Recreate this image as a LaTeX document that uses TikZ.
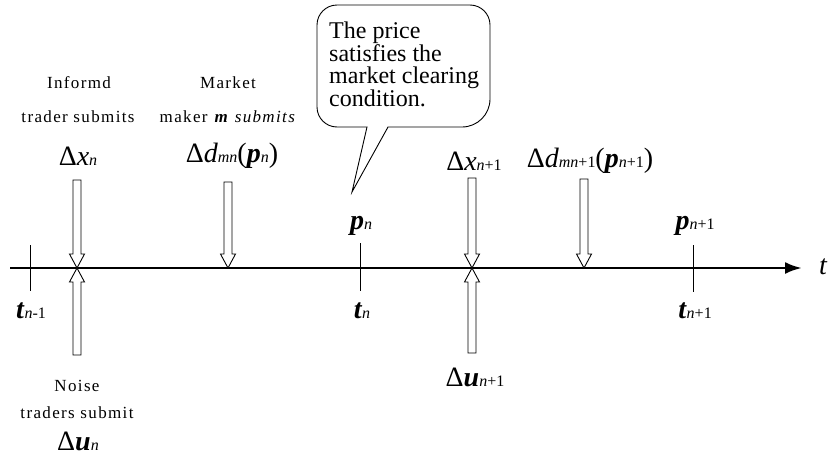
\documentclass[tikz,border=0pt]{standalone}
\usepackage{fontspec}
\setmainfont{Liberation Serif}
\newfontfamily\lblfont{Liberation Serif}[LetterSpace=8]
\usetikzlibrary{arrows.meta}
\newcommand{\lo}[1]{{\fontsize{16}{16}\selectfont #1}}
\newcommand{\barr}[4]{\draw[barrow] (#1-4,#2) -- (#1-4,#3) -- (#1-7.5,#3) -- (#1,#4) -- (#1+7.5,#3) -- (#1+4,#3) -- (#1+4,#2) -- cycle;}
\begin{document}
\begin{tikzpicture}[x=1pt,y=-1pt,
  lbl/.style={font=\lblfont\fontsize{17}{17}\selectfont, inner sep=0pt},
  mlbl/.style={font=\fontsize{28}{28}\selectfont, inner sep=0pt},
  ctext/.style={font=\fontsize{24}{22.5}\selectfont, inner sep=0pt, align=left, anchor=north west},
  barrow/.style={draw, line width=0.9pt, fill=white},
  tickmark/.style={line width=0.8pt},
  axisline/.style={line width=2.8pt, -{Latex[length=17pt,width=12pt]}},
  callout/.style={draw, line width=0.9pt, fill=white}]
\useasboundingbox (0,0) rectangle (834,458);
% axis
\coordinate (ax0) at (10,268);
\coordinate (ax1) at (802,268);
\draw[axisline] (ax0) -- (ax1);
\node[mlbl, font=\fontsize{28}{28}\selectfont\itshape] (tt) at (823,267) {t};
% ticks
\coordinate (k1a) at (30,245); \coordinate (k1b) at (30,291);
\coordinate (k2a) at (360,243); \coordinate (k2b) at (360,291);
\coordinate (k3a) at (693,245); \coordinate (k3b) at (693,292);
\draw[tickmark] (k1a) -- (k1b);
\draw[tickmark] (k2a) -- (k2b);
\draw[tickmark] (k3a) -- (k3b);
% block arrows
\barr{77}{180}{254}{268}
\barr{77}{355}{282}{268}
\barr{228}{182}{254}{268}
\barr{472}{178}{254}{268}
\barr{472}{353}{282}{268}
\barr{584}{179}{254}{268}
% labels top-left
\node[lbl] (inf1) at (79,83) {Informd};
\node[lbl] (inf2) at (78,117) {trader submits};
\node[mlbl] (dxn) at (78,156) {Δ\textit{x}\lo{\textit{n}}};
\node[lbl] (mm1) at (228,83) {Market};
\node[lbl] (mm2) at (228,117) {maker \textbf{\textit{m}} \textit{submits}};
\node[mlbl] (ddn) at (232,156) {Δ\textit{d}\lo{\textit{mn}}(\textbf{\textit{p}}\lo{\textit{n}})};
% price labels
\node[mlbl] (pn) at (361,226) {\textbf{\textit{p}}\lo{\textit{n}}};
\node[mlbl] (pn1) at (695,226) {\textbf{\textit{p}}\lo{\textit{n}+1}};
\node[mlbl] (dxn1) at (474,161) {Δ\textit{x}\lo{\textit{n}+1}};
\node[mlbl] (ddn1) at (590,161) {Δ\textit{d}\lo{\textit{mn}+1}(\textbf{\textit{p}}\lo{\textit{n}+1})};
% time labels
\node[mlbl] (tn0) at (31,311) {\textbf{\textit{t}}\lo{\textit{n}-1}};
\node[mlbl] (tn) at (362,311) {\textbf{\textit{t}}\lo{\textit{n}}};
\node[mlbl] (tn1) at (695,311) {\textbf{\textit{t}}\lo{\textit{n}+1}};
% bottom labels
\node[lbl] (ns1) at (77,386) {Noise};
\node[lbl] (ns2) at (77,413) {traders submit};
\node[mlbl] (dun) at (78,441) {Δ\textbf{\textit{u}}\lo{\textit{n}}};
\node[mlbl] (dun1) at (475,377) {Δ\textbf{\textit{u}}\lo{\textit{n}+1}};
% callout
\draw[callout] (367,127) -- (352,192) -- (388,127) -- (462,127)
  arc[start angle=90, end angle=0, radius=28] -- (490,25)
  arc[start angle=0, end angle=-90, radius=20] -- (337,5)
  arc[start angle=-90, end angle=-180, radius=20] -- (317,107)
  arc[start angle=180, end angle=90, radius=20] -- cycle;
\node[ctext] (ct) at (329,22) {The price\\satisfies the\\market clearing\\condition.};
\end{tikzpicture}
\end{document}
